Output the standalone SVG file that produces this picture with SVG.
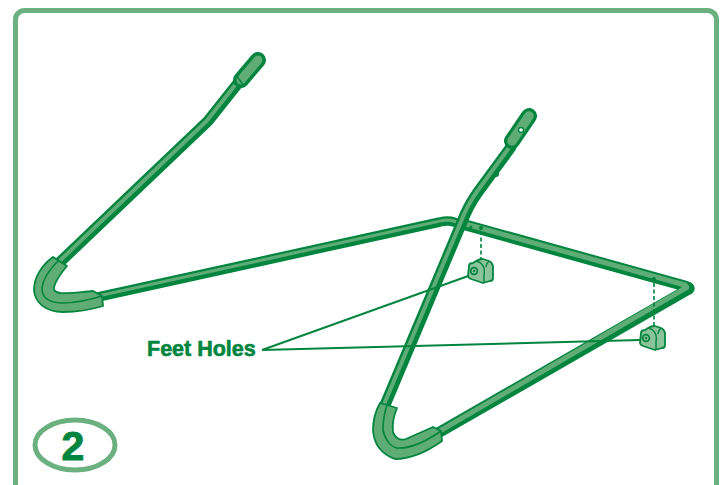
<svg xmlns="http://www.w3.org/2000/svg" width="727" height="485" viewBox="0 0 727 485">
<style>
.o{fill:none;stroke:#00853f;stroke-linecap:round;stroke-linejoin:round}
.i{fill:none;stroke:#5fac76;stroke-linecap:round;stroke-linejoin:round}
.s{fill:#5fac76;stroke:#00853f;stroke-width:1.800;stroke-linejoin:round}
.l{fill:none;stroke:#00853f;stroke-width:2}
.d{fill:none;stroke:#00853f;stroke-width:1.600;stroke-dasharray:4 2.500}
.f{fill:#8cc49a;stroke:#00853f;stroke-width:1.800;stroke-linejoin:round}
.t{font-family:"Liberation Sans",Arial,sans-serif;font-weight:700;fill:#00853f;stroke:#00853f;stroke-width:.6}
</style>
<defs>
<g id="foot">
<path class="f" d="M-12-6Q-12-9-8-9L-5-11Q-2-13 2-13L8-11Q11-10 12-6L12 6Q12 9 9 9L2 11L-10 7Q-13 6-13 3Z"/>
<path class="l" style="stroke-width:1.400" d="M-5-11Q0-10 2-6Q4-3 3 3L3 10M8-11Q5-8 5-5"/>
<circle class="f" cx="-7" cy="-1" r="3.400"/>
<circle cx="-7" cy="-1" r="1.300" fill="#00853f"/>
</g>
</defs>
<rect x="15.500" y="10.500" width="701" height="490" rx="9" fill="#fff" stroke="#6ab17f" stroke-width="5"/>
<g id="left-frame">
<path class="o" stroke-width="11" d="M60 262L208 121L239 82"/>
<path class="i" stroke-width="4" d="M59 261.500L207 120.500L238 81.500"/>
<path class="o" stroke-width="9.500" d="M98 297L440 222Q452 219 462 226"/>
<path class="i" stroke-width="3.200" d="M98 296L440 221Q452 218 462 225"/>
<path class="o" stroke-width="16" d="M241 80L258 60"/>
<path class="i" stroke-width="9" d="M241 80L258 60"/>
<path class="l" style="stroke-width:1.500" d="M236 75L244 86"/>
<path class="s" d="M53 257C42 265 34 277 34 290C35 303 46 312 63 312C78 312 90 310 103 306L102 296L93 291C80 292 68 294 60 293C55 292 53 290 54 287C56 280 61 273 67 266Z"/>
<path class="l" style="stroke-width:1.600" d="M59 260C49 270 42 280 42 290C43 299 51 303 63 303C76 303 89 300 102 296"/>
</g>
<g id="right-frame">
<path class="o" stroke-width="11" d="M462 224L685 286Q692 288 687 290L438 433"/>
<path class="i" stroke-width="5" d="M462 223L685 285Q689 288 684 289L438 432"/>
<path class="o" stroke-width="11" d="M385 405L462 222Q468 206 478 192L511 147"/>
<path class="i" stroke-width="4" d="M384 404.500L461 221.500Q467 205.500 477 191.500L510 146.500"/>
<path class="o" stroke-width="16" d="M512 141L529 116"/>
<path class="i" stroke-width="9.500" d="M512 141L529 116"/>
<circle cx="521" cy="130" r="2.500" fill="#fff" stroke="#00853f" stroke-width="1.400"/>
<circle cx="496" cy="174" r="3" fill="#00853f"/>
<circle cx="481" cy="228" r="2" fill="#00853f"/>
<circle cx="471" cy="227" r="1.500" fill="#00853f"/>
<circle cx="654" cy="279" r="2" fill="#00853f"/>
<path class="s" d="M380 403C375 412 373 421 373 430C374 446 384 455 395 459C412 459 428 451 442 441L441 431L433 427L406 439C400 441 395 438 393 432C392 424 394 415 397 408Z"/>
<path class="l" style="stroke-width:1.600" d="M387 405C384 414 383 422 383 430C385 440 391 447 397 448C412 449 428 440 441 431"/>
</g>
<g id="connectors">
<path class="d" d="M481 231V261"/>
<path class="d" d="M654 283V327"/>
<path class="l" d="M262 350L471 275"/>
<path class="l" d="M262 350L640 340"/>
</g>
<g id="foot-left"><use href="#foot" x="481" y="272"/></g>
<g id="foot-right"><use href="#foot" x="653" y="339"/></g>
<g id="label"><text class="t" x="147" y="356" font-size="21.500">Feet Holes</text></g>
<g id="step">
<ellipse cx="75" cy="445" rx="40" ry="25" fill="#fff" stroke="#6ab17f" stroke-width="5"/>
<text class="t" x="73" y="460" font-size="41" text-anchor="middle" style="stroke-width:1">2</text>
</g>
</svg>
